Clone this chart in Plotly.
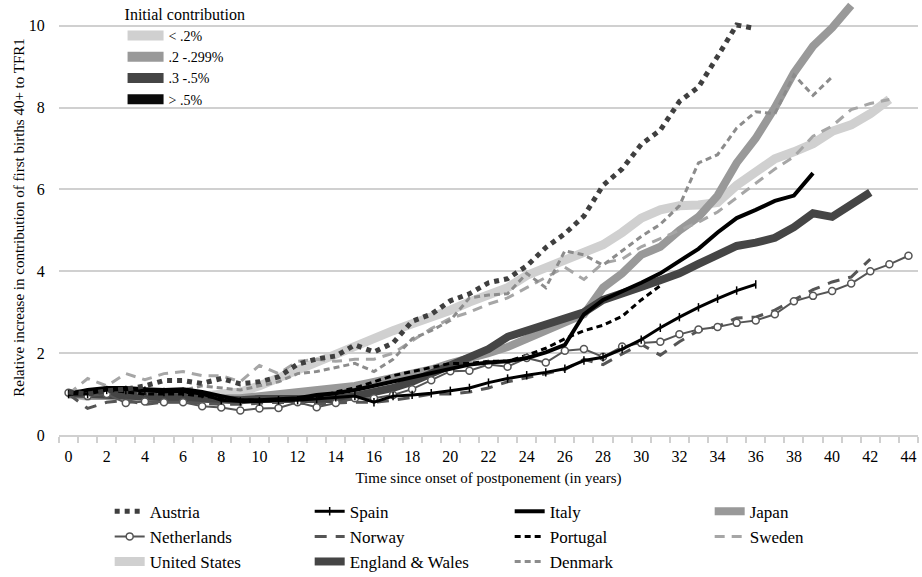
import plotly.graph_objects as go

austria = [1.05, 1.0, 1.08, 1.12, 1.2, 1.33, 1.33, 1.26, 1.38, 1.25, 1.3, 1.42, 1.73, 1.86, 1.93, 2.2, 2.03, 2.25, 2.78, 2.95, 3.28, 3.45, 3.72, 3.82, 4.13, 4.58, 4.92, 5.35, 6.1, 6.5, 7.1, 7.45, 8.15, 8.5, 9.25, 10.02, 9.93]
spain = [1.0, 1.0, 1.1, 1.1, 1.08, 1.05, 1.05, 1.0, 0.85, 0.82, 0.82, 0.85, 0.85, 0.88, 0.92, 0.95, 0.8, 0.95, 0.98, 1.02, 1.08, 1.15, 1.28, 1.38, 1.46, 1.53, 1.62, 1.82, 1.9, 2.1, 2.33, 2.62, 2.88, 3.12, 3.33, 3.53, 3.68]
italy = [1.0, 1.1, 1.15, 1.15, 1.12, 1.1, 1.12, 1.05, 0.95, 0.85, 0.85, 0.88, 0.9, 0.98, 1.02, 1.1, 1.2, 1.32, 1.42, 1.52, 1.62, 1.72, 1.77, 1.8, 1.88, 2.02, 2.2, 2.95, 3.3, 3.5, 3.72, 3.95, 4.25, 4.55, 4.95, 5.3, 5.5, 5.72, 5.85, 6.4]
japan = [1.0, 0.95, 0.95, 0.95, 0.92, 0.9, 0.9, 0.88, 0.88, 0.9, 0.95, 1.0, 1.02, 1.1, 1.15, 1.2, 1.3, 1.4, 1.5, 1.6, 1.75, 1.85, 2.0, 2.15, 2.35, 2.55, 2.7, 2.95, 3.6, 3.95, 4.4, 4.6, 5.0, 5.33, 5.85, 6.65, 7.25, 8.0, 8.85, 9.5, 9.95, 10.5]
netherlands = [1.03, 0.95, 1.0, 0.78, 0.82, 0.8, 0.8, 0.7, 0.67, 0.6, 0.65, 0.66, 0.8, 0.68, 0.78, 0.9, 0.9, 0.98, 1.12, 1.34, 1.56, 1.57, 1.72, 1.67, 1.88, 1.77, 2.06, 2.1, 1.91, 2.16, 2.25, 2.28, 2.46, 2.58, 2.64, 2.74, 2.8, 2.95, 3.27, 3.4, 3.52, 3.7, 4.0, 4.17, 4.38]
norway = [1.0, 0.65, 0.8, 0.85, 0.75, 0.8, 0.8, 0.78, 0.75, 0.75, 0.78, 0.8, 0.78, 0.75, 0.78, 0.8, 0.8, 0.85, 0.92, 1.0, 1.0, 1.05, 1.15, 1.3, 1.4, 1.5, 1.6, 1.85, 1.72, 1.98, 2.22, 1.95, 2.28, 2.55, 2.65, 2.86, 2.88, 3.05, 3.3, 3.55, 3.74, 3.86, 4.3]
portugal = [1.0, 1.05, 1.1, 1.05, 1.0, 1.0, 1.0, 0.95, 0.9, 0.85, 0.85, 0.85, 0.88, 0.9, 1.05, 1.15, 1.3, 1.45, 1.55, 1.65, 1.75, 1.75, 1.8, 1.8, 1.95, 2.12, 2.35, 2.55, 2.68, 2.9, 3.3, 3.65]
sweden = [1.0, 1.38, 1.2, 1.5, 1.35, 1.5, 1.55, 1.45, 1.45, 1.3, 1.7, 1.5, 1.8, 1.85, 1.8, 1.85, 1.85, 2.0, 2.3, 2.6, 2.85, 3.0, 3.2, 3.35, 3.6, 3.85, 4.1, 3.8, 4.2, 4.3, 4.6, 4.8, 5.0, 5.2, 5.45, 5.8, 6.15, 6.5, 6.8, 7.3, 7.55, 7.95, 8.1, 8.2]
united_states = [1.0, 0.95, 1.05, 1.05, 1.0, 1.0, 1.0, 0.95, 1.0, 1.05, 1.2, 1.4, 1.6, 1.8, 1.97, 2.15, 2.35, 2.55, 2.72, 2.87, 3.05, 3.25, 3.4, 3.6, 3.9, 4.1, 4.25, 4.45, 4.65, 4.95, 5.3, 5.5, 5.6, 5.62, 5.68, 6.1, 6.4, 6.75, 6.92, 7.12, 7.42, 7.58, 7.85, 8.2]
england_wales = [1.02, 1.0, 1.0, 0.98, 0.95, 0.95, 0.92, 0.9, 0.85, 0.85, 0.88, 0.88, 0.85, 0.85, 0.88, 0.95, 1.05, 1.15, 1.3, 1.5, 1.7, 1.9, 2.1, 2.4, 2.55, 2.7, 2.82, 3.0, 3.3, 3.48, 3.62, 3.78, 3.95, 4.18, 4.38, 4.62, 4.7, 4.82, 5.08, 5.42, 5.33, 5.62, 5.93]
denmark = [1.0, 1.05, 1.15, 1.1, 1.0, 1.05, 1.1, 1.2, 1.15, 1.1, 1.2, 1.3, 1.5, 1.55, 1.65, 1.75, 1.55, 1.85, 2.35, 2.55, 2.8, 3.35, 3.42, 3.45, 3.95, 3.6, 4.5, 4.4, 4.15, 4.5, 4.85, 5.15, 5.6, 6.65, 6.85, 7.5, 7.9, 7.85, 8.8, 8.3, 8.75]

group_labels = ["< .2%", ".2 -.299%", ".3 -.5%", "> .5%"]
group_colors = ["#d0d0d0", "#999999", "#454545", "#0a0a0a"]

x_tick_vals = list(range(0, 45, 2))
y_tick_vals = [0, 2, 4, 6, 8, 10]

FONT = "Liberation Serif, Times New Roman, serif"

fig = go.Figure()

def add(name, y, rank, color, width, dash="solid", mode="lines", marker=None):
    fig.add_trace(go.Scatter(
        x=list(range(len(y))), y=y, name=name, mode=mode,
        line=dict(color=color, width=width, dash=dash),
        marker=marker, legendrank=rank, legend="legend"))

# draw order: thick background lines first
add("United States", united_states, 9, "#d0d0d0", 9)
add("Japan", japan, 4, "#999999", 8)
add("England & Wales", england_wales, 10, "#454545", 8)
add("Sweden", sweden, 8, "#a6a6a6", 3, dash="10px,7px")
add("Denmark", denmark, 11, "#8c8c8c", 3, dash="6px,4px")
add("Norway", norway, 6, "#555555", 3, dash="12px,9px")
add("Portugal", portugal, 7, "#000000", 3, dash="6px,4px")
add("Netherlands", netherlands, 5, "#555555", 2, mode="lines+markers",
    marker=dict(symbol="circle", size=7, color="white", line=dict(color="#555555", width=1.5)))
add("Spain", spain, 2, "#000000", 3, mode="lines+markers",
    marker=dict(symbol="line-ns-open", size=6, color="#000000", line=dict(color="#000000", width=1.5)))
add("Italy", italy, 3, "#000000", 4)
add("Austria", austria, 1, "#3f3f3f", 5, dash="5px,5px")

for lab, col in zip(group_labels, group_colors):
    fig.add_trace(go.Scatter(x=[None], y=[None], mode="lines", name=lab,
                             line=dict(color=col, width=10), legend="legend2"))

fig.update_layout(
    width=922, height=577,
    margin=dict(l=59, r=4, t=0, b=142, autoexpand=False),
    paper_bgcolor="white", plot_bgcolor="white",
    font=dict(family=FONT, size=15, color="black"),
    xaxis=dict(
        range=[-0.5, 44.5], tickmode="array", tickvals=x_tick_vals,
        ticks="outside", ticklen=6, tickcolor="rgba(0,0,0,0)",
        tickfont=dict(size=16), showgrid=False, zeroline=False,
        showline=True, linecolor="#d0d0d0", linewidth=2,
        minor=dict(tick0=-0.5, dtick=1, ticks="outside", ticklen=6,
                   tickcolor="#d0d0d0", tickwidth=2, showgrid=False),
        title=dict(text="Time since onset of postponement (in years)",
                   font=dict(size=15), standoff=8),
    ),
    yaxis=dict(
        range=[0, 10.63], tickmode="array", tickvals=y_tick_vals,
        ticks="outside", ticklen=10, tickcolor="rgba(0,0,0,0)",
        tickfont=dict(size=16), showgrid=True, gridcolor="#d0d0d0", gridwidth=2,
        zeroline=False, showline=False,
        title=dict(text="Relative increase in contribution of first births 40+ to TFR1",
                   font=dict(size=15), standoff=0),
    ),
    legend=dict(orientation="h", x=0.059, xanchor="left", y=-0.135, yanchor="top",
                entrywidth=155, entrywidthmode="pixels", traceorder="normal",
                font=dict(size=17), bgcolor="rgba(0,0,0,0)", tracegroupgap=0),
    legend2=dict(x=0.074, xanchor="left", y=1.002, yanchor="top", itemwidth=36,
                 title=dict(text="Initial contribution", font=dict(size=16)),
                 font=dict(size=14), bgcolor="rgba(0,0,0,0)", tracegroupgap=0),
)

fig.write_html("out.html", config={"displayModeBar": False},
               post_script="document.body.style.margin='0';")
